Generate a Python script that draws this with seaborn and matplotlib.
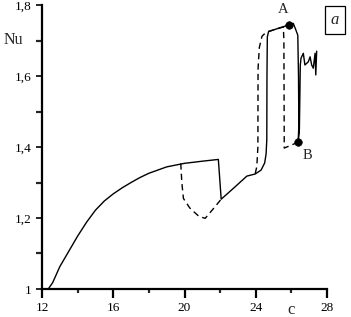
import matplotlib
matplotlib.use("Agg")
import matplotlib.pyplot as plt
import seaborn as sns
import pandas as pd

# ---- data ----
solid_c = [12.35, 12.6, 13.0, 13.5, 14.0, 14.5, 15.0, 15.5, 16.0, 16.5, 17.0, 17.5,
           18.0, 19.0, 20.0, 21.0, 21.9, 22.06, 22.8, 23.5, 23.97, 24.3, 24.5, 24.58,
           24.62, 24.63, 24.65, 24.72, 25.3, 25.87, 26.11, 26.25, 26.36, 26.40, 26.42,
           26.38, 26.45, 26.50, 26.54, 26.67, 26.76, 26.95, 27.05, 27.14, 27.23, 27.33,
           27.37, 27.42]
solid_nu = [1.0, 1.018, 1.063, 1.106, 1.149, 1.188, 1.222, 1.248, 1.268, 1.285, 1.300,
            1.314, 1.326, 1.344, 1.354, 1.360, 1.365, 1.253, 1.286, 1.318, 1.324, 1.335,
            1.355, 1.38, 1.42, 1.60, 1.71, 1.725, 1.735, 1.744, 1.748, 1.73, 1.715, 1.60,
            1.46, 1.413, 1.45, 1.63, 1.650, 1.664, 1.631, 1.640, 1.654, 1.631, 1.622,
            1.664, 1.603, 1.67]

dash1_c = [19.79, 19.85, 19.94, 20.3, 20.8, 21.16, 21.6, 22.06]
dash1_nu = [1.354, 1.30, 1.255, 1.228, 1.205, 1.199, 1.225, 1.253]

dash2_c = [23.97, 24.06, 24.12, 24.13, 24.2, 24.35, 24.6, 25.55, 25.58, 25.60, 26.36]
dash2_nu = [1.325, 1.345, 1.40, 1.62, 1.68, 1.712, 1.724, 1.738, 1.70, 1.397, 1.413]

pt_c = [25.87, 26.36]
pt_nu = [1.744, 1.413]
pt_labels = ["A", "B"]

xticks = [12, 16, 20, 24, 28]
xticklabels = ["12", "16", "20", "24", "28"]
yticks = [1.0, 1.2, 1.4, 1.6, 1.8]
yticklabels = ["1", "1,2", "1,4", "1,6", "1,8"]

# ---- style ----
sns.set_style("ticks")
plt.rcParams["font.family"] = ["Liberation Serif", "DejaVu Serif"]

fig = plt.figure(figsize=(3.51, 3.17), dpi=100)
ax = fig.add_axes([42 / 351, 1 - 289 / 317, 285 / 351, 284 / 317])

solid = pd.DataFrame({"c": solid_c, "Nu": solid_nu})
d1 = pd.DataFrame({"c": dash1_c, "Nu": dash1_nu})
d2 = pd.DataFrame({"c": dash2_c, "Nu": dash2_nu})
pts = pd.DataFrame({"c": pt_c, "Nu": pt_nu})

sns.lineplot(data=d1, x="c", y="Nu", sort=False, estimator=None, ax=ax,
             color="black", lw=1.0, linestyle=(0, (4.5, 3.0)))
sns.lineplot(data=d2, x="c", y="Nu", sort=False, estimator=None, ax=ax,
             color="black", lw=1.0, linestyle=(0, (4.5, 3.0)))
sns.lineplot(data=solid, x="c", y="Nu", sort=False, estimator=None, ax=ax,
             color="black", lw=1.0)
sns.scatterplot(data=pts, x="c", y="Nu", ax=ax, color="black", s=30,
                edgecolor="black", zorder=5)

ax.text(pt_c[0] - 0.35, pt_nu[0] + 0.025, pt_labels[0], fontsize=10.5,
        ha="center", va="bottom")
ax.text(pt_c[1] + 0.55, pt_nu[1] - 0.02, pt_labels[1], fontsize=10.5,
        ha="center", va="top")

ax.set_xlim(12, 28)
ax.set_ylim(1.0, 1.8)
ax.set_xticks(xticks)
ax.set_xticklabels(xticklabels)
ax.set_yticks(yticks)
ax.set_yticklabels(yticklabels)
ax.set_xticks([14, 18, 22, 26], minor=True)
ax.set_yticks([1.1, 1.3, 1.5, 1.7], minor=True)

for s in ["top", "right"]:
    ax.spines[s].set_visible(False)
for s in ["left", "bottom"]:
    ax.spines[s].set_linewidth(1.6)
    ax.spines[s].set_color("black")

ax.tick_params(axis="x", which="major", direction="out", length=6.5, width=1.6,
               labelsize=9.5, pad=3, colors="black")
ax.tick_params(axis="x", which="minor", direction="out", length=3, width=1.6)
ax.tick_params(axis="y", which="major", direction="out", length=4.5, width=1.2,
               labelsize=9.5, pad=3, colors="black")
ax.tick_params(axis="y", which="minor", direction="out", length=4.5, width=1.6)

ax.set_ylabel("Nu", rotation=0, fontsize=11.5, ha="center", va="center")
ax.yaxis.set_label_coords(-0.10, 0.877)
ax.set_xlabel("c", fontsize=12, va="top")
ax.xaxis.set_label_coords(0.874, -0.045)

fig.text(335 / 351, 1 - 20 / 317, "a", fontsize=12, style="italic",
         ha="center", va="center",
         bbox=dict(boxstyle="square,pad=0.35", fc="white", ec="black", lw=0.9))

fig.savefig("out.png", dpi=100, facecolor="white")
